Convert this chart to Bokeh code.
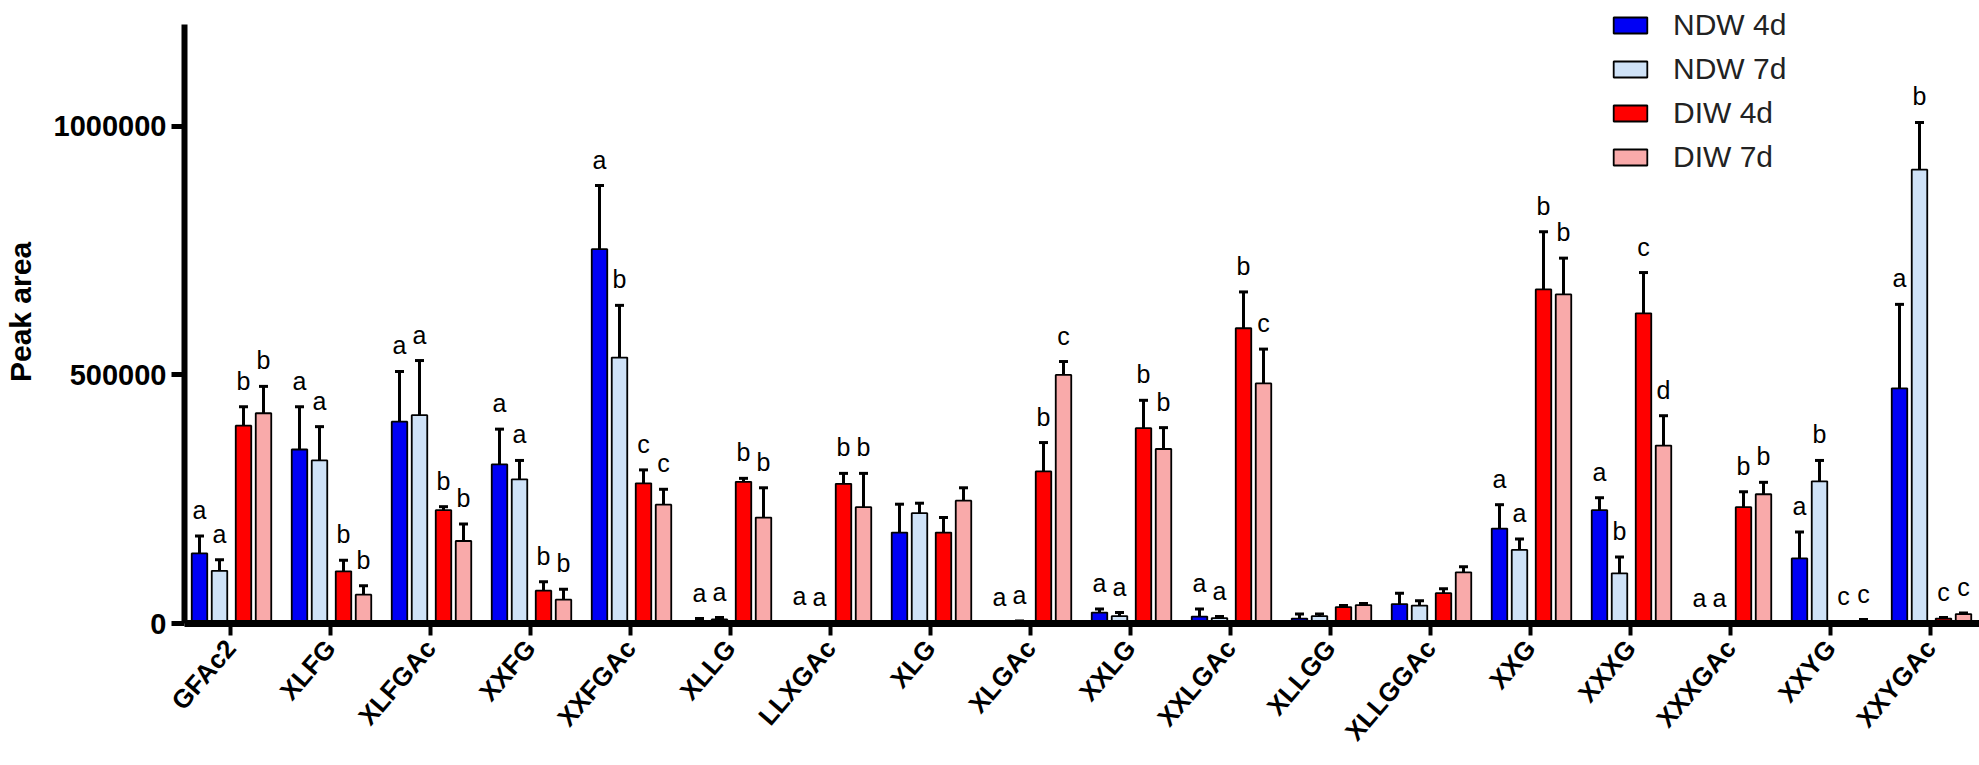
import math
from bokeh.plotting import figure
from bokeh.models import (ColumnDataSource, Range1d, FixedTicker, Whisker, TeeHead,
                          Legend, LegendItem)
from bokeh.transform import dodge
from bokeh.core.properties import value
from bokeh.embed import file_html
from bokeh.resources import INLINE

categories = ["GFAc2", "XLFG", "XLFGAc", "XXFG", "XXFGAc", "XLLG", "LLXGAc", "XLG", "XLGAc",
              "XXLG", "XXLGAc", "XLLGG", "XLLGGAc", "XXG", "XXXG", "XXXGAc", "XXYG", "XXYGAc"]

series_names = ["NDW 4d", "NDW 7d", "DIW 4d", "DIW 7d"]

ndw4 = [141000, 350000, 406000, 320000, 753000, 5000, 2000, 183000, 0, 22000, 14000, 10000,
        39000, 191000, 228000, 0, 131000, 473000]
ndw4_err = [35000, 86000, 101000, 71000, 128000, 5000, 1000, 57000, 2000, 7000, 15000, 9000,
            22000, 48000, 25000, 0, 53000, 169000]

ndw7 = [106000, 328000, 419000, 290000, 535000, 8000, 1000, 222000, 3000, 15000, 11000, 15000,
        36000, 148000, 101000, 0, 286000, 913000]
ndw7_err = [22000, 68000, 110000, 38000, 105000, 4000, 0, 20000, 2000, 7000, 3000, 4000,
            10000, 22000, 33000, 0, 42000, 95000]

diw4 = [398000, 105000, 228000, 66000, 282000, 285000, 281000, 183000, 306000, 393000, 594000,
        33000, 61000, 672000, 624000, 234000, 2000, 10000]
diw4_err = [38000, 22000, 7000, 18000, 27000, 7000, 21000, 30000, 58000, 56000, 73000,
            3000, 9000, 116000, 82000, 31000, 2000, 2000]

diw7 = [423000, 58000, 166000, 48000, 239000, 213000, 234000, 247000, 500000, 351000, 483000,
        37000, 103000, 662000, 358000, 260000, 1000, 19000]
diw7_err = [54000, 18000, 34000, 21000, 31000, 60000, 68000, 26000, 27000, 43000, 69000,
            3000, 11000, 73000, 60000, 24000, 7000, 2000]

letters_ndw4 = ["a", "a", "a", "a", "a", "a", "a", "", "a", "a", "a", "", "", "a", "a", "a", "a", "a"]
letters_ndw7 = ["a", "a", "a", "a", "b", "a", "a", "", "a", "a", "a", "", "", "a", "b", "a", "b", "b"]
letters_diw4 = ["b", "b", "b", "b", "c", "b", "b", "", "b", "b", "b", "", "", "b", "c", "b", "c", "c"]
letters_diw7 = ["b", "b", "b", "b", "c", "b", "b", "", "c", "b", "c", "", "", "b", "d", "b", "c", "c"]

y_ticks = [0, 500000, 1000000]
y_axis_max = 1205000

colors = ["#0000F5", "#CFE2F7", "#FF0000", "#F9AAAA"]
offsets = [-0.31, -0.11, 0.13, 0.33]
bar_width = 0.155

# frame reaches the top of the canvas so the legend is not clipped; the axis line stops at y_axis_max
p = figure(frame_width=1795, frame_height=623,
           x_range=Range1d(-0.46, 17.49), y_range=Range1d(0, y_axis_max * 623 / 599),
           output_backend="svg", toolbar_location=None,
           min_border_left=172, min_border_top=0, min_border_bottom=128, min_border_right=2)
p.xgrid.grid_line_color = None
p.ygrid.grid_line_color = None
p.outline_line_color = None
p.background_fill_color = "white"

all_vals = [ndw4, ndw7, diw4, diw7]
all_errs = [ndw4_err, ndw7_err, diw4_err, diw7_err]
all_lets = [letters_ndw4, letters_ndw7, letters_diw4, letters_diw7]

legend_items = []
for name, vals, errs, lets, col, off in zip(series_names, all_vals, all_errs, all_lets, colors, offsets):
    src = ColumnDataSource(dict(
        idx=list(range(len(categories))),
        top=vals,
        hi=[v + e for v, e in zip(vals, errs)],
        lab=lets,
    ))
    r = p.vbar(x=dodge("idx", off, range=p.x_range), top="top", width=bar_width, source=src,
               fill_color=col, line_color="black", line_width=1.8)
    w = Whisker(base=dodge("idx", off, range=p.x_range), upper="hi", lower="top", source=src,
                line_color="black", line_width=3,
                upper_head=TeeHead(size=9, line_width=3, line_color="black"), lower_head=None)
    p.add_layout(w)
    p.text(x=dodge("idx", off, range=p.x_range), y="hi", text="lab", source=src,
           y_offset=-12, text_baseline="bottom", text_align="center",
           text_font=value("Liberation Sans"), text_font_size="25px", text_color="black")
    legend_items.append(LegendItem(label=name, renderers=[r]))

# axes
xa = p.xaxis[0]
xa.ticker = FixedTicker(ticks=list(range(len(categories))))
xa.major_label_overrides = {i: c for i, c in enumerate(categories)}
xa.major_label_orientation = 0.86
xa.major_label_text_font = "Liberation Sans"
xa.major_label_text_font_style = "bold"
xa.major_label_text_font_size = "26px"
xa.major_label_text_color = "black"
xa.major_label_standoff = 8
xa.axis_line_width = 7
xa.axis_line_color = "black"
xa.major_tick_line_width = 4
xa.major_tick_out = 12
xa.major_tick_in = 0
xa.minor_tick_line_color = None

ya = p.yaxis[0]
ya.ticker = FixedTicker(ticks=y_ticks)
ya.bounds = (0, y_axis_max)
ya.major_label_overrides = {t: str(t) for t in y_ticks}
ya.major_label_text_font = "Liberation Sans"
ya.major_label_text_font_style = "bold"
ya.major_label_text_font_size = "29px"
ya.major_label_text_color = "black"
ya.major_label_standoff = 5
ya.axis_line_width = 6
ya.major_tick_line_width = 5
ya.major_tick_out = 13
ya.major_tick_in = 0
ya.minor_tick_line_color = None
ya.axis_label = "Peak area"
ya.axis_label_text_font = "Liberation Sans"
ya.axis_label_text_font_style = "bold"
ya.axis_label_text_font_size = "30px"
ya.axis_label_text_color = "black"
ya.axis_label_standoff = 14

legend = Legend(items=legend_items, location=(1425, 448), orientation="vertical",
                glyph_width=42, glyph_height=20, label_standoff=22, label_height=36,
                label_text_font="Liberation Sans", label_text_font_size="30px",
                label_text_color="#222222", spacing=8, padding=8, margin=0,
                border_line_color=None, background_fill_alpha=0)
p.add_layout(legend, "center")

open("out.html", "w").write(file_html(p, INLINE))
